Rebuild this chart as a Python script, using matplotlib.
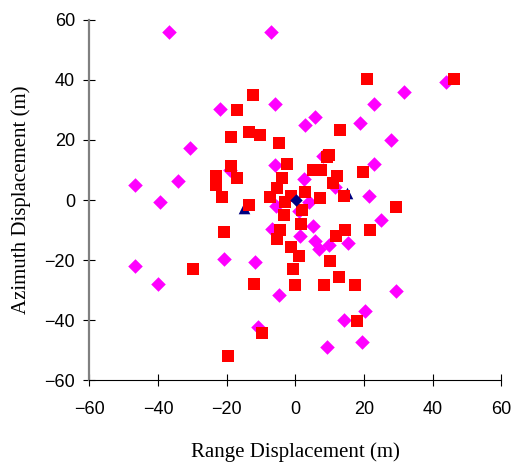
import numpy as np
from matplotlib import pyplot as plt

# red squares (range, azimuth)
red_x = [20.8, 46.2, -12.4, -17.0, 12.9, -13.5, -10.2, -18.7, -4.7, 9.9,
         9.1, -2.3, -18.7, 5.1, 7.4, 19.6, 12.3, -23.1, -17.0, -4.0,
         -23.1, 10.9, -5.2, 2.7, 14.1, -21.5, -7.4, 7.3, -1.3, -3.1,
         -13.6, 29.3, 2.1, -3.4, 1.7, 21.9, 14.6, -20.9, -4.6, -5.2,
         11.8, -1.3, 1.0, 10.0, -29.9, -0.8, 12.8, -12.0, -0.2, 8.5,
         17.4, 18.0, -9.6, -19.7]
red_y = [40.2, 40.2, 35.1, 29.9, 23.4, 22.8, 21.5, 20.9, 18.9, 15.0,
         14.4, 11.9, 11.2, 10.0, 10.0, 9.2, 8.0, 7.9, 7.3, 7.3,
         5.0, 5.7, 4.1, 2.8, 1.5, 1.1, 1.1, 0.7, 1.2, -0.6,
         -1.7, -2.3, -3.2, -4.9, -8.1, -10.1, -10.1, -10.8, -10.0, -12.9,
         -12.0, -15.8, -18.6, -20.3, -23.0, -23.0, -25.6, -28.1, -28.2, -28.2,
         -28.2, -40.3, -44.2, -52.0]

# magenta diamonds
mag_x = [-36.9, -7.2, 44.0, 31.8, 22.8, -6.0, -21.8, 5.8, 2.9, 18.8,
         27.8, -30.7, 22.8, -6.0, 8.0, -19.1, 2.4, -34.2, -46.6, 11.5,
         21.6, -39.4, 4.1, -5.7, 1.2, 25.0, 5.2, -6.8, 1.3, 5.8,
         9.7, 7.0, 15.5, -20.7, -11.7, -46.6, -39.9, 29.4, -4.8, 20.4,
         14.3, -11.0, 19.3, 9.2]
mag_y = [55.9, 55.9, 39.2, 35.9, 32.0, 32.1, 30.2, 27.6, 25.0, 25.7,
         19.9, 17.2, 12.1, 11.6, 14.8, 9.9, 7.0, 6.3, 5.0, 4.4,
         1.3, -0.8, -0.5, -1.9, -3.8, -6.6, -8.6, -9.7, -11.9, -13.6,
         -15.1, -16.4, -14.3, -19.5, -20.7, -22.0, -27.9, -30.4, -31.7, -36.9,
         -40.1, -42.4, -47.2, -49.1]

# navy markers
centre_x = [0.2]
centre_y = [0.0]
tri_x = [-15.0, 15.1]
tri_y = [-2.8, 2.3]

ticks = [-60, -40, -20, 0, 20, 40, 60]

fig = plt.figure(figsize=(5.14, 4.63), dpi=100)
ax = fig.add_axes([0.174, 0.179, 0.801, 0.778])

ax.scatter(mag_x, mag_y, marker="D", s=55, color="#FF00FF", linewidths=0, zorder=2)
ax.scatter(tri_x, tri_y, marker="^", s=70, color="#000080", linewidths=0, zorder=3)
ax.scatter(red_x, red_y, marker="s", s=85, color="#FF0000", linewidths=0, zorder=4)
ax.scatter(centre_x, centre_y, marker="D", s=40, color="#000080", linewidths=0, zorder=5)

ax.set_xlim(-60, 60)
ax.set_ylim(-60, 60)
ax.set_xticks(ticks)
ax.set_yticks(ticks)

for side in ["top", "right"]:
    ax.spines[side].set_visible(False)
ax.spines["left"].set_color("#808080")
ax.spines["left"].set_linewidth(1.6)
ax.spines["bottom"].set_color("black")
ax.spines["bottom"].set_linewidth(0.8)

ax.tick_params(direction="inout", length=8.5, width=0.8, labelsize=13)
ax.tick_params(axis="x", pad=11)
ax.tick_params(axis="y", pad=6)
for lbl in ax.get_xticklabels() + ax.get_yticklabels():
    lbl.set_family("Liberation Sans")

ax.set_xlabel("Range Displacement (m)", family="Liberation Serif", fontsize=15, labelpad=17)
ax.set_ylabel("Azimuth Displacement (m)", family="Liberation Serif", fontsize=15, labelpad=10)

fig.savefig("out.png", dpi=100)
